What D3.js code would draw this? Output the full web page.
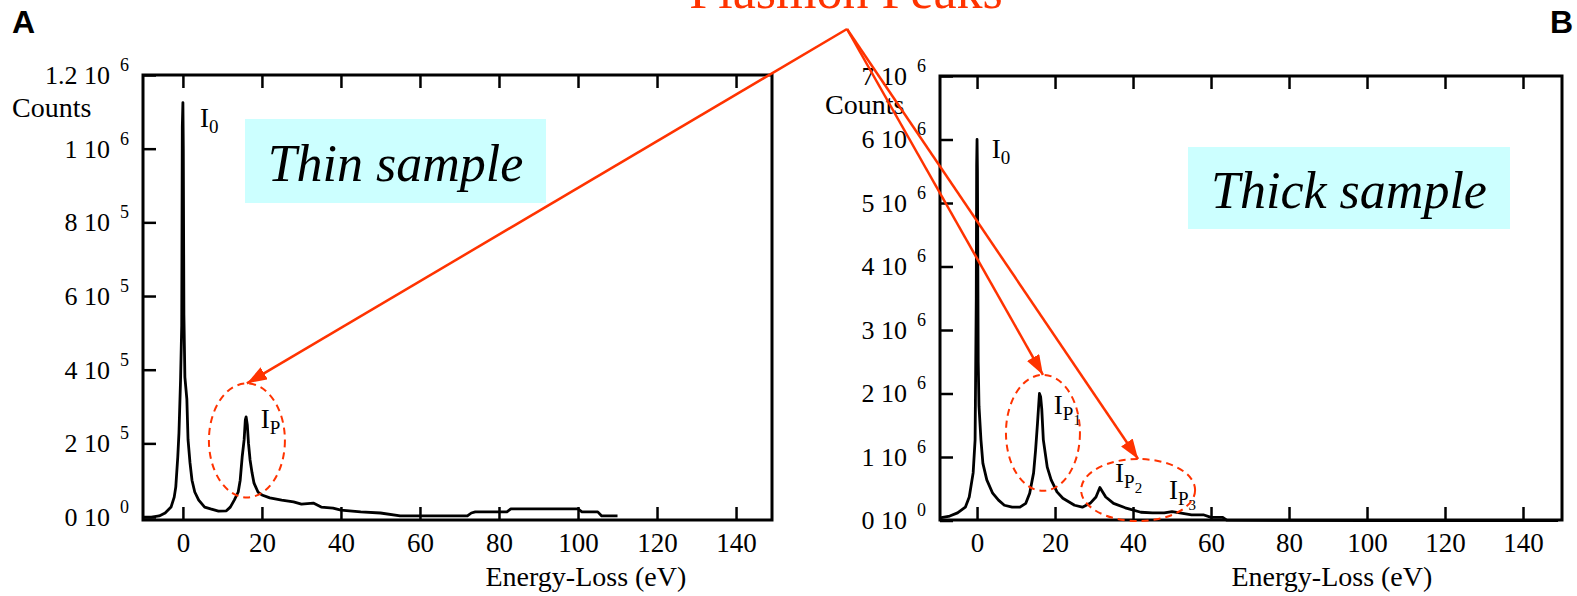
<!DOCTYPE html>
<html>
<head>
<meta charset="UTF-8">
<script src="https://cdn.jsdelivr.net/npm/d3@7"></script>
<style>
    body { margin: 0; background: #fff; }
    svg text { font-family: "Liberation Serif", "Times New Roman", serif; fill: #000; }
</style>
<title>Plasmon Peaks</title>
</head>
<body>
<div id="Chart"></div>
<script>
    // thin sample spectrum, energy-loss (eV) and counts
    const thinEnergy = [-10, -8, -6, -4.5, -3, -2.2, -1.8, -1.3, -1, -0.6, -0.3, -0.15, 0, 0.1, 0.25, 0.5, 1, 1.3, 1.8, 2.3, 3, 4, 5.5, 7, 9, 11, 12, 13, 14, 14.5, 15, 15.5, 15.8, 16, 16.3, 16.6, 17, 17.5, 18, 19, 20, 22, 25, 28, 30, 33, 35, 38, 40, 45, 50, 55, 60, 72, 73, 74, 82, 83, 100, 101, 105, 106, 110]
    const thinCounts = [0, 0, 3000, 11000, 27000, 54000, 82000, 163000, 228000, 370000, 520000, 1060000, 1125000, 1000000, 550000, 380000, 320000, 210000, 147000, 100000, 68000, 46000, 27000, 22000, 16000, 17000, 27000, 46000, 68000, 100000, 163000, 210000, 264000, 272000, 250000, 200000, 155000, 120000, 92000, 68000, 60000, 52000, 46000, 41000, 35000, 38000, 27000, 24000, 19000, 14000, 11000, 3000, 3000, 3000, 11000, 14000, 14000, 22000, 22000, 14000, 14000, 3000, 3000]

    // thick sample spectrum
    const thickEnergy = [-9.5, -7, -5, -3, -2, -1, -0.5, -0.2, -0.1, 0, 0.1, 0.3, 0.5, 1, 1.5, 2.5, 4, 5.5, 7, 9, 11, 12.5, 13.5, 14.5, 15, 15.5, 16, 16.3, 16.6, 17, 18, 19, 20.5, 22, 25, 27, 29, 30.5, 31.5, 33, 35, 38, 42, 45, 48, 50, 52, 55, 58, 60, 63, 64, 100, 149]
    const thickCounts = [40000, 70000, 120000, 210000, 370000, 750000, 1270000, 3500000, 5600000, 6000000, 5500000, 2500000, 1800000, 1270000, 900000, 640000, 430000, 320000, 240000, 210000, 210000, 270000, 430000, 750000, 1100000, 1530000, 2000000, 1950000, 1750000, 1270000, 840000, 640000, 450000, 350000, 240000, 210000, 270000, 370000, 520000, 370000, 270000, 200000, 130000, 120000, 120000, 140000, 120000, 90000, 90000, 50000, 50000, 5000, 0, 0]

    const energyTicks = [0, 20, 40, 60, 80, 100, 120, 140]
    const thinCountTicks = [0, 2e5, 4e5, 6e5, 8e5, 1e6, 1.2e6]
    const thinTickMantissa = ["0", "2", "4", "6", "8", "1", "1.2"]
    const thinTickExponent = ["0", "5", "5", "5", "5", "6", "6"]
    const thickCountTicks = [0, 1e6, 2e6, 3e6, 4e6, 5e6, 6e6, 7e6]
    const thickTickMantissa = ["0", "1", "2", "3", "4", "5", "6", "7"]
    const thickTickExponent = ["0", "6", "6", "6", "6", "6", "6", "6"]

    const width = 1577
    const height = 596
    const red = "#ff3300"

    const svg = d3.select("#Chart")
        .append("svg")
        .attr("width", width)
        .attr("height", height)

    svg.append("defs")
        .append("marker")
        .attr("id", "head")
        .attr("markerUnits", "userSpaceOnUse")
        .attr("markerWidth", 20)
        .attr("markerHeight", 14)
        .attr("refX", 20)
        .attr("refY", 7)
        .attr("orient", "auto")
        .append("path")
        .attr("d", "M0,0 L20,7 L0,14 Z")
        .attr("fill", red)

    const draw_panel = (p) => {
        const x = d3.scaleLinear().domain(p.xDomain).range([p.left, p.right])
        const y = d3.scaleLinear().domain(p.yDomain).range(p.yRange)
        const g = svg.append("g")

        // bottom ticks + labels
        const bottom = g.append("g")
            .attr("transform", `translate(0,${p.bottom})`)
            .call(d3.axisBottom(x).tickValues(energyTicks).tickSize(-13).tickFormat(d3.format("d")))
        bottom.select(".domain").remove()
        bottom.selectAll("line").attr("stroke", "#000").attr("stroke-width", 2.5)
        bottom.selectAll("text")
            .attr("y", 32).attr("dy", 0)
            .style("font-size", "27px")
            .style("font-family", "Liberation Serif")

        // top ticks, no labels
        const top = g.append("g")
            .attr("transform", `translate(0,${p.top})`)
            .call(d3.axisTop(x).tickValues(energyTicks).tickSize(-13).tickFormat(""))
        top.select(".domain").remove()
        top.selectAll("line").attr("stroke", "#000").attr("stroke-width", 2.5)

        // left ticks, labels like "2 10^5"
        const leftAxis = g.append("g")
            .attr("transform", `translate(${p.left},0)`)
            .call(d3.axisLeft(y).tickValues(p.yTicks).tickSize(-13).tickPadding(14).tickFormat(""))
        leftAxis.select(".domain").remove()
        leftAxis.selectAll("line").attr("stroke", "#000").attr("stroke-width", 2.5)
        leftAxis.selectAll(".tick text")
            .attr("dy", "0.32em")
            .style("font-size", "26px")
            .style("font-family", "Liberation Serif")
            .each(function (d, i) {
                const t = d3.select(this)
                t.append("tspan").text(p.mantissa[i] + " 10")
                t.append("tspan")
                    .attr("dx", 10).attr("dy", -13)
                    .style("font-size", "18px")
                    .text(p.exponent[i])
            })

        // frame
        g.append("rect")
            .attr("x", p.left).attr("y", p.top)
            .attr("width", p.right - p.left).attr("height", p.bottom - p.top)
            .attr("fill", "none")
            .attr("stroke", "#000")
            .attr("stroke-width", 3)

        const line = d3.line()
            .x((d, i) => x(p.energy[i]))
            .y((d, i) => y(p.counts[i]))

        g.append("path")
            .datum(p.counts)
            .attr("d", line)
            .attr("fill", "none")
            .attr("stroke", "#000")
            .attr("stroke-width", 2.8)
            .attr("stroke-linejoin", "round")

        g.append("text")
            .attr("x", p.countsX).attr("y", p.countsY)
            .style("font-size", "28px")
            .text("Counts")

        g.append("text")
            .attr("x", x(p.xLabelAt)).attr("y", 586)
            .attr("text-anchor", "middle")
            .style("font-size", "28px")
            .text("Energy-Loss (eV)")

        // sample box
        g.append("rect")
            .attr("x", p.box[0]).attr("y", p.box[1])
            .attr("width", p.box[2]).attr("height", p.box[3])
            .attr("fill", "#ccffff")
        g.append("text")
            .attr("x", p.box[0] + p.box[2] / 2)
            .attr("y", p.box[1] + p.box[3] / 2 + 20)
            .attr("text-anchor", "middle")
            .style("font-size", "52px")
            .style("font-style", "italic")
            .text(p.boxText)

        // peak labels
        p.peaks.forEach(pk => {
            const t = g.append("text")
                .attr("x", x(pk.e)).attr("y", y(pk.c))
                .style("font-size", "27px")
                .text("I")
            t.append("tspan").attr("dy", 6).style("font-size", "19px").text(pk.sub)
            if (pk.sub2) {
                t.append("tspan").attr("dy", 5).style("font-size", "15px").text(pk.sub2)
            }
        })

        // dashed circles around plasmon peaks, return their tops for the arrows
        return p.rings.map(r => {
            const cx = x(r.e), cy = y(r.c)
            g.append("ellipse")
                .attr("cx", cx).attr("cy", cy)
                .attr("rx", r.rx).attr("ry", r.ry)
                .attr("fill", "none")
                .attr("stroke", red)
                .attr("stroke-width", 2)
                .attr("stroke-dasharray", "7,5")
            return [cx, cy - r.ry]
        })
    }

    const thinTargets = draw_panel({
        left: 143, right: 772, top: 75, bottom: 520,
        xDomain: [-10.1, 149.1], yDomain: [-8000, 1.2e6], yRange: [520, 75],
        yTicks: thinCountTicks, mantissa: thinTickMantissa, exponent: thinTickExponent,
        energy: thinEnergy, counts: thinCounts,
        countsX: 12, countsY: 117, xLabelAt: 102,
        box: [245, 119, 301, 84], boxText: "Thin sample",
        peaks: [{e: 4.3, c: 1.06e6, sub: "0"}, {e: 19.7, c: 2.42e5, sub: "P"}],
        rings: [{e: 16.2, c: 2.08e5, rx: 38, ry: 57}]
    })

    const thickTargets = draw_panel({
        left: 940, right: 1562, top: 76, bottom: 520,
        xDomain: [-9.5, 150], yDomain: [0, 7e6], yRange: [520.5, 76],
        yTicks: thickCountTicks, mantissa: thickTickMantissa, exponent: thickTickExponent,
        energy: thickEnergy, counts: thickCounts,
        countsX: 825, countsY: 114, xLabelAt: 91,
        box: [1188, 147, 322, 82], boxText: "Thick sample",
        peaks: [{e: 3.8, c: 5.71e6, sub: "0"}, {e: 19.7, c: 1.68e6, sub: "P", sub2: "1"},
                {e: 35.4, c: 6.1e5, sub: "P", sub2: "2"}, {e: 49.2, c: 3.4e5, sub: "P", sub2: "3"}],
        rings: [{e: 16.9, c: 1.38e6, rx: 37, ry: 58}, {e: 41.3, c: 4.8e5, rx: 57, ry: 31}]
    })

    // title (cut by the top edge, as in the original) and arrows
    svg.append("text")
        .attr("x", 846).attr("y", 8)
        .attr("text-anchor", "middle")
        .style("font-size", "52px")
        .style("fill", red)
        .text("Plasmon Peaks")

    const apex = [847, 29]
    thinTargets.concat(thickTargets).forEach(t => {
        svg.append("line")
            .attr("x1", apex[0]).attr("y1", apex[1])
            .attr("x2", t[0]).attr("y2", t[1])
            .attr("stroke", red)
            .attr("stroke-width", 2.5)
            .attr("marker-end", "url(#head)")
    })

    // panel letters
    svg.append("text").attr("x", 12).attr("y", 33)
        .style("font-family", "Liberation Sans").style("font-weight", "bold").style("font-size", "32px")
        .text("A")
    svg.append("text").attr("x", 1550).attr("y", 33)
        .style("font-family", "Liberation Sans").style("font-weight", "bold").style("font-size", "32px")
        .text("B")
</script>
</body>
</html>
